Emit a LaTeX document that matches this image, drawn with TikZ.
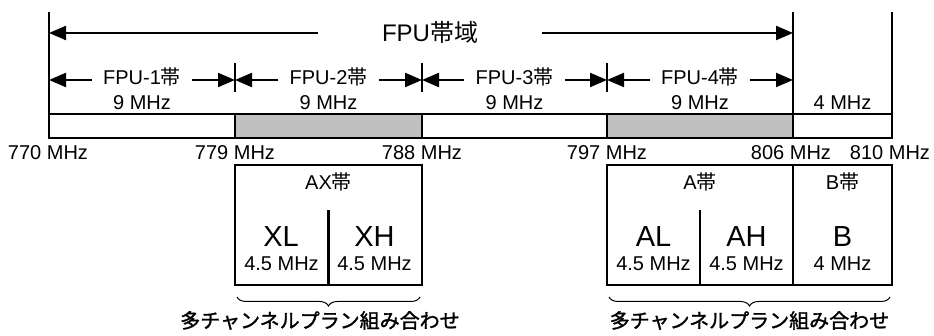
\documentclass[tikz,border=0pt]{standalone}
\usepackage{fontspec}
\setmainfont{Liberation Sans}
\newfontfamily\cjk{Noto Sans CJK JP}
\newfontfamily\cjkmed{Noto Sans CJK JP}[BoldFont={Noto Sans CJK JP},BoldFeatures={FakeBold=1.5}]
\usetikzlibrary{arrows.meta,decorations.pathreplacing}
\definecolor{bandgray}{RGB}{192,192,192}
\newcommand{\obi}{{\cjk 帯}}
\tikzset{bandline/.style={draw=black,line width=2.2pt},
         bandarrow/.style={bandline,-{Triangle[length=17pt,width=14pt]}},
         divtick/.style={draw=black,line width=1.6pt},
         boxline/.style={draw=black,line width=2.4pt},
         lbl/.style={font=\fontsize{20}{24}\selectfont,inner sep=0pt,anchor=base},
         arrowlbl/.style={lbl,inner xsep=11pt},
         biglbl/.style={lbl,font=\fontsize{29}{34}\selectfont},
         planbrace/.style={draw=black,line width=1pt,decorate,
                           decoration={brace,mirror,amplitude=9pt}},
         planlbl/.style={lbl,font=\fontsize{20}{24}\selectfont\cjkmed\bfseries}}

\begin{document}
\begin{tikzpicture}[x=1pt,y=1pt]
  \useasboundingbox (0,0) rectangle (934,336);
  % band edges
  \coordinate (lt) at (49,324);
  \coordinate (mt) at (793,324);
  \coordinate (rt) at (892,324);
  \coordinate (toprow) at (0,303);
  \coordinate (subrow) at (0,256);
  \coordinate (b770) at (49,198);
  \coordinate (b779) at (235,198);
  \coordinate (b788) at (422,198);
  \coordinate (b797) at (607,198);
  \coordinate (b806) at (793,198);
  \coordinate (b810) at (892,198);

  % frequency bar
  \fill[bandgray] (b779) rectangle (422,222);
  \fill[bandgray] (b797) rectangle (793,222);
  \draw[bandline] (b770) rectangle (892,222);
  \draw[bandline] (b779) -- +(0,24) (b788) -- +(0,24) (b797) -- +(0,24);
  \draw[bandline] (lt) -- (b770) (mt) -- (b806) (rt) -- (b810);

  % whole FPU band
  \node[lbl,font=\fontsize{24}{29}\selectfont,inner xsep=64pt] (fpuband) at (430,294) {FPU\obi{\cjk 域}};
  \draw[bandarrow] (fpuband.west |- toprow) -- (lt |- toprow);
  \draw[bandarrow] (fpuband.east |- toprow) -- (mt |- toprow);

  % sub-bands
  \draw[divtick] (235,273) -- (235,244) (422,273) -- (422,244) (607,273) -- (607,244);
  \node[arrowlbl] (fpu1) at (142,251) {FPU-1\obi};
  \node[arrowlbl] (fpu2) at (328.5,251) {FPU-2\obi};
  \node[arrowlbl] (fpu3) at (514.5,251) {FPU-3\obi};
  \node[arrowlbl] (fpu4) at (700,251) {FPU-4\obi};
  \draw[bandarrow] (fpu1.west |- subrow) -- (b770 |- subrow);
  \draw[bandarrow] (fpu1.east |- subrow) -- (b779 |- subrow);
  \draw[bandarrow] (fpu2.west |- subrow) -- (b779 |- subrow);
  \draw[bandarrow] (fpu2.east |- subrow) -- (b788 |- subrow);
  \draw[bandarrow] (fpu3.west |- subrow) -- (b788 |- subrow);
  \draw[bandarrow] (fpu3.east |- subrow) -- (b797 |- subrow);
  \draw[bandarrow] (fpu4.west |- subrow) -- (b797 |- subrow);
  \draw[bandarrow] (fpu4.east |- subrow) -- (b806 |- subrow);
  \node[lbl] (w1) at (142,226) {9 MHz};
  \node[lbl] (w2) at (328.5,226) {9 MHz};
  \node[lbl] (w3) at (514.5,226) {9 MHz};
  \node[lbl] (w4) at (700,226) {9 MHz};
  \node[lbl] (w5) at (842.5,226) {4 MHz};

  % frequencies
  \node[lbl] (f770) at (48,176) {770 MHz};
  \node[lbl] (f779) at (235,176) {779 MHz};
  \node[lbl] (f788) at (422,176) {788 MHz};
  \node[lbl] (f797) at (607,176) {797 MHz};
  \node[lbl] (f806) at (791,176) {806 MHz};
  \node[lbl] (f810) at (890,176) {810 MHz};

  % AX band
  \draw[boxline] (235,51) rectangle (422,171);
  \draw[bandline] (328.5,126) -- (328.5,51);
  \node[lbl] (ax) at (328.5,146) {AX\obi};
  \node[biglbl] (xl) at (281,89) {XL};
  \node[biglbl] (xh) at (374.5,89) {XH};
  \node[lbl] (xlw) at (281.5,65) {4.5 MHz};
  \node[lbl] (xhw) at (374.5,65) {4.5 MHz};

  % A and B bands
  \draw[boxline] (607,51) rectangle (892,171);
  \draw[bandline] (793,171) -- (793,51);
  \draw[bandline] (700,126) -- (700,51);
  \node[lbl] (aband) at (700,146) {A\obi};
  \node[lbl] (bband) at (842.5,146) {B\obi};
  \node[biglbl] (al) at (653.5,89) {AL};
  \node[biglbl] (ah) at (746.5,89) {AH};
  \node[biglbl] (bb) at (842.5,89) {B};
  \node[lbl] (alw) at (653.5,65) {4.5 MHz};
  \node[lbl] (ahw) at (746.5,65) {4.5 MHz};
  \node[lbl] (bw) at (842.5,65) {4 MHz};

  % channel plans
  \draw[planbrace] (237,39) -- (420,39);
  \draw[planbrace] (609,39) -- (890,39);
  \node[planlbl] (plan1) at (320,8) {多チャンネルプラン組み合わせ};
  \node[planlbl] (plan2) at (749.5,8) {多チャンネルプラン組み合わせ};
\end{tikzpicture}
\end{document}
